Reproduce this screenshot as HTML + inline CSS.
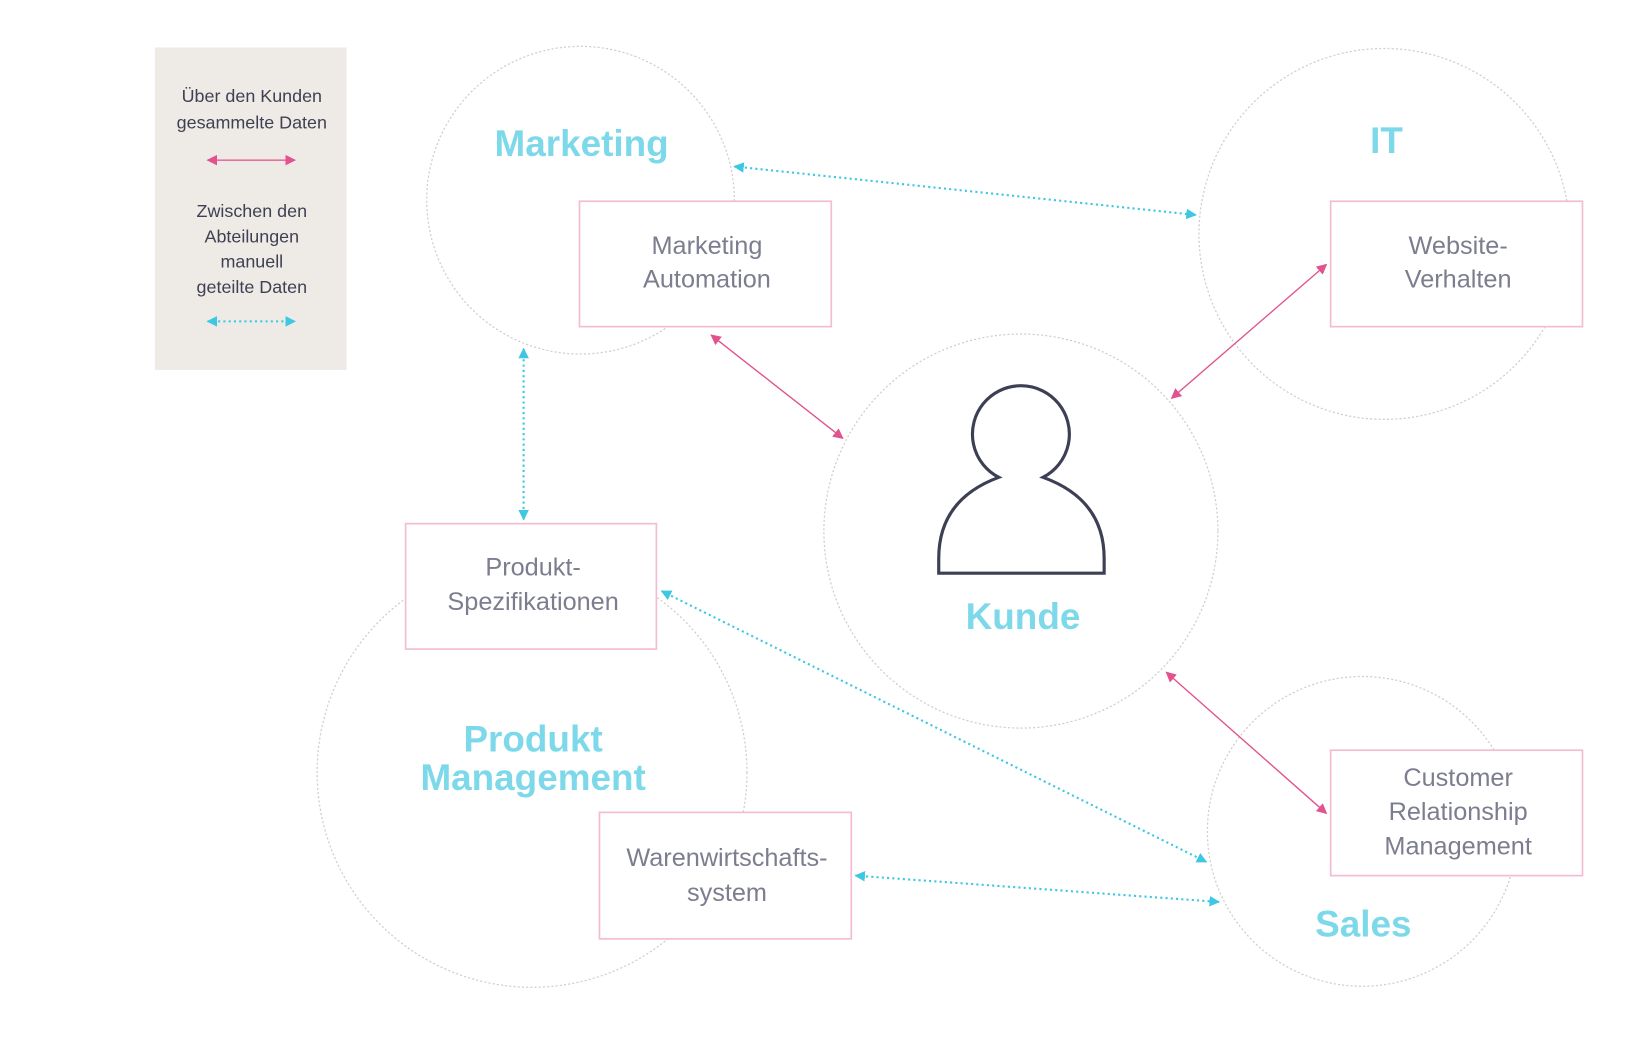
<!DOCTYPE html>
<html><head><meta charset="utf-8"><style>
html,body{margin:0;padding:0;background:#fff;width:1652px;height:1060px;overflow:hidden}
svg{display:block}
text{font-family:"Liberation Sans",sans-serif}
.t{fill:#7dd9ea;font-weight:bold;font-size:35px;text-anchor:middle}
.b{fill:#7c7d8e;font-size:24px;text-anchor:middle}
.l{fill:#3f4152;font-size:17px;text-anchor:middle}
.c{fill:none;stroke:#cfcfcf;stroke-width:1.2;stroke-dasharray:2 2}
.bx{fill:#fff;stroke:#f4bcd4;stroke-width:1.6}
.p{stroke:#e2528e;stroke-width:1.3;fill:none}
.d{stroke:#3cc7e2;stroke-width:2;stroke-dasharray:2 3;fill:none}
</style></head><body>
<svg width="1652" height="1060" viewBox="0 0 1568 1006" preserveAspectRatio="none">
<defs>
<marker id="pa" viewBox="0 0 10 10" refX="9" refY="5" markerWidth="10" markerHeight="10" markerUnits="userSpaceOnUse" orient="auto-start-reverse"><path d="M0,0L10,5L0,10z" fill="#e2528e"/></marker>
<marker id="ca" viewBox="0 0 10 10" refX="9" refY="5" markerWidth="10" markerHeight="10" markerUnits="userSpaceOnUse" orient="auto-start-reverse"><path d="M0,0L10,5L0,10z" fill="#3cc7e2"/></marker>
</defs>
<rect x="147" y="45" width="182" height="306" fill="#eeebe7"/>
<text class="l" x="239" y="97">Über den Kunden</text>
<text class="l" x="239" y="122">gesammelte Daten</text>
<line x1="197" y1="152" x2="280" y2="152" stroke="#e86fa0" stroke-width="1.5" marker-start="url(#pa)" marker-end="url(#pa)"/>
<text class="l" x="239" y="206">Zwischen den</text>
<text class="l" x="239" y="230">Abteilungen</text>
<text class="l" x="239" y="254">manuell</text>
<text class="l" x="239" y="278">geteilte Daten</text>
<line x1="197" y1="305" x2="280" y2="305" class="d" marker-start="url(#ca)" marker-end="url(#ca)"/>

<circle class="c" cx="551" cy="190" r="146"/>
<circle class="c" cx="1314" cy="222" r="176"/>
<circle class="c" cx="969" cy="504" r="187"/>
<circle class="c" cx="505" cy="733" r="204"/>
<circle class="c" cx="1293" cy="789" r="147"/>

<rect class="bx" x="550" y="191" width="239" height="119"/>
<rect class="bx" x="1263" y="191" width="239" height="119"/>
<rect class="bx" x="385" y="497" width="238" height="119"/>
<rect class="bx" x="569" y="771" width="239" height="120"/>
<rect class="bx" x="1263" y="712" width="239" height="119"/>

<text class="t" x="552" y="148">Marketing</text>
<text class="t" x="1316" y="145">IT</text>
<text class="t" x="971" y="597">Kunde</text>
<text class="t" x="506" y="713">Produkt</text>
<text class="t" x="506" y="750">Management</text>
<text class="t" x="1294" y="889">Sales</text>

<text class="b" x="671" y="241">Marketing</text>
<text class="b" x="671" y="273">Automation</text>
<text class="b" x="1384" y="241">Website-</text>
<text class="b" x="1384" y="273">Verhalten</text>
<text class="b" x="506" y="546">Produkt-</text>
<text class="b" x="506" y="579">Spezifikationen</text>
<text class="b" x="690" y="822">Warenwirtschafts-</text>
<text class="b" x="690" y="855">system</text>
<text class="b" x="1384" y="746">Customer</text>
<text class="b" x="1384" y="778">Relationship</text>
<text class="b" x="1384" y="811">Management</text>

<g fill="none" stroke="#3d4054" stroke-width="3">
<path d="M948,453 A46,46 0 1 1 990,453 Q1048,474 1048,530 L1048,544 L891,544 L891,530 Q891,474 948,453 Z"/>
</g>

<line class="p" x1="675" y1="318" x2="800" y2="416" marker-start="url(#pa)" marker-end="url(#pa)"/>
<line class="p" x1="1112" y1="378" x2="1259" y2="251" marker-start="url(#pa)" marker-end="url(#pa)"/>
<line class="p" x1="1107" y1="638" x2="1259" y2="772" marker-start="url(#pa)" marker-end="url(#pa)"/>

<line class="d" x1="697" y1="158" x2="1135" y2="204" marker-start="url(#ca)" marker-end="url(#ca)"/>
<line class="d" x1="497" y1="331" x2="497" y2="493" marker-start="url(#ca)" marker-end="url(#ca)"/>
<line class="d" x1="628" y1="561" x2="1145" y2="818" marker-start="url(#ca)" marker-end="url(#ca)"/>
<line class="d" x1="812" y1="831" x2="1157" y2="856" marker-start="url(#ca)" marker-end="url(#ca)"/>
</svg>
</body></html>
